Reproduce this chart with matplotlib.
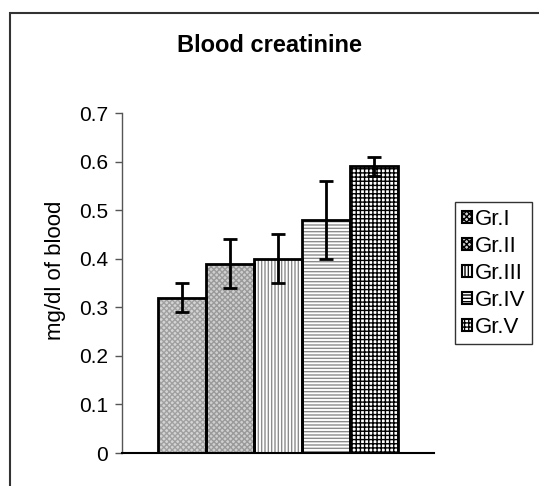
import matplotlib
matplotlib.use("Agg")
import matplotlib.pyplot as plt
from matplotlib.patches import Rectangle, Patch
import numpy as np

groups = ["Gr.I", "Gr.II", "Gr.III", "Gr.IV", "Gr.V"]
values = [0.32, 0.39, 0.40, 0.48, 0.59]
errors = [0.03, 0.05, 0.05, 0.08, 0.02]
yticks = [0, 0.1, 0.2, 0.3, 0.4, 0.5, 0.6, 0.7]
yticklabels = ["0", "0.1", "0.2", "0.3", "0.4", "0.5", "0.6", "0.7"]

faces = ["#d4d4d4", "#cfcfcf", "#ffffff", "#ffffff", "#ffffff"]
hatches = ["xxxxxx", "xxxxxx", "|||||", "-----", "++++"]
hatchcols = ["#a0a0a0", "#9a9a9a", "#8c8c8c", "#8c8c8c", "#000000"]

plt.rcParams["font.family"] = ["Liberation Sans", "DejaVu Sans"]
plt.rcParams["hatch.linewidth"] = 1.0

fig = plt.figure(figsize=(5.39, 4.86), dpi=100)
ax = fig.add_axes([122/539, 33/486, 312/539, 340/486])

n = len(values)
w = 1.0 / (n + 1.5)
xs = (np.arange(n) - (n - 1) / 2) * w

for i in range(n):
    ax.bar(xs[i], values[i], width=w, color=faces[i], edgecolor=hatchcols[i],
           hatch=hatches[i], linewidth=0, zorder=2)
    ax.bar(xs[i], values[i], width=w, fill=False, edgecolor="black",
           linewidth=2.0, zorder=3)
ax.errorbar(xs, values, yerr=errors, fmt="none", ecolor="black",
            elinewidth=2.0, capsize=5, capthick=2.0, zorder=4)

ax.set_xlim(-0.5, 0.5)
ax.set_ylim(0, 0.7)
ax.set_yticks(yticks)
ax.set_yticklabels(yticklabels, fontsize=15)
ax.set_xticks([])
ax.tick_params(axis="y", direction="out", length=5, width=1, color="#555555", pad=5)
for s in ["top", "right"]:
    ax.spines[s].set_visible(False)
ax.spines["left"].set_color("#555555")
ax.spines["left"].set_linewidth(1.0)
ax.spines["bottom"].set_color("black")
ax.spines["bottom"].set_linewidth(1.5)

fig.text(269.5/539, 1 - 45/486, "Blood creatinine", ha="center", va="center",
         fontsize=17, fontweight="bold")
fig.text(55/539, 1 - 270/486, "mg/dl of blood", ha="center", va="center",
         rotation=90, fontsize=16)

handles = [Patch(facecolor=faces[i], edgecolor="black", hatch=hatches[i],
                 linewidth=1.5, label=groups[i]) for i in range(n)]
leg = fig.legend(handles=handles, loc="upper left",
                 bbox_to_anchor=(455/539, 1 - 202/486), fontsize=16,
                 frameon=True, fancybox=False, handlelength=0.45,
                 handleheight=0.45, handletextpad=0.15, labelspacing=0.27,
                 borderpad=0.3, borderaxespad=0)
leg.get_frame().set_edgecolor("black")
leg.get_frame().set_linewidth(1.0)

border = Rectangle((10/539, -0.05), 1.1, 1 - 13/486 + 0.05,
                   transform=fig.transFigure, fill=False,
                   edgecolor="#333333", linewidth=1.5)
fig.patches.append(border)

fig.savefig("out.png", dpi=100)
